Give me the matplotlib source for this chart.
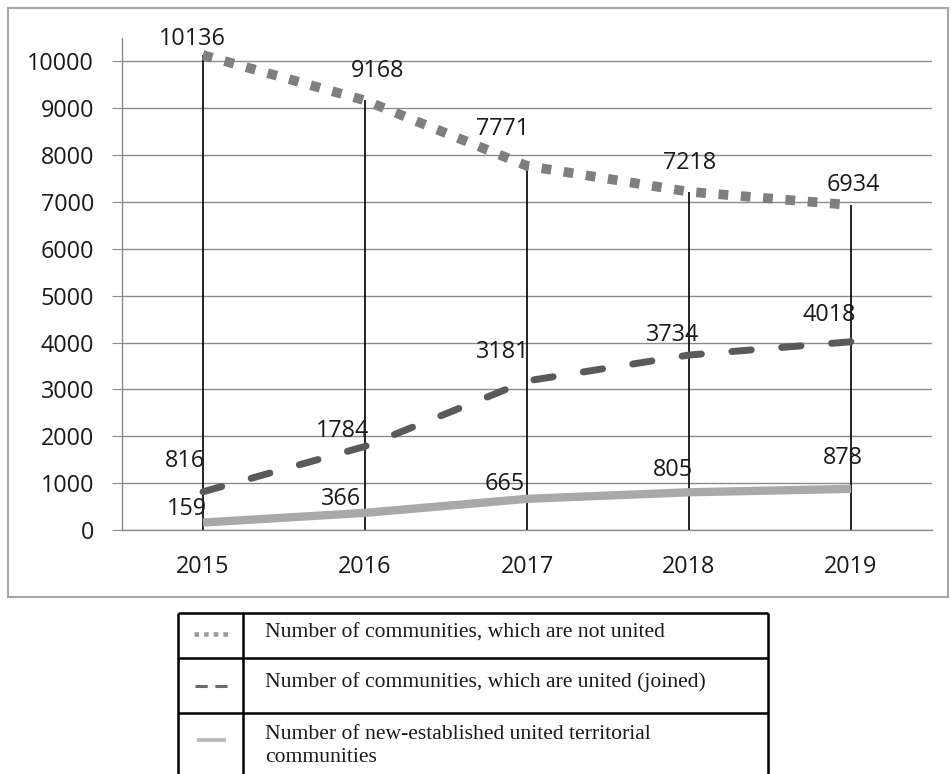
import numpy as np
import matplotlib.pyplot as plt
from matplotlib.patches import Rectangle
from matplotlib.lines import Line2D

# ---------- Data ----------
years = ['2015', '2016', '2017', '2018', '2019']
not_united = [10136, 9168, 7771, 7218, 6934]
united = [816, 1784, 3181, 3734, 4018]
new_utc = [159, 366, 665, 805, 878]

legend_labels = [
    'Number of communities, which are not united',
    'Number of communities, which are united (joined)',
    'Number of new-established united territorial\ncommunities',
]

# label offsets in pixels (dx, dy) from each point, as placed in the original
off_not_united = [(-11, 16), (13, 29), (-24, 37), (1, 29), (2, 20)]
off_united = [(-18, 31), (-22, 15), (-24, 29), (-16, 20), (-22, 27)]
off_new = [(-16, 14), (-24, 14), (-22, 15), (-16, 22), (-8, 31)]

W, H = 951, 774
fig = plt.figure(figsize=(W / 100, H / 100), dpi=100)

# ---------- Background layer (outer frame + legend table) in pixel coords ----------
bg = fig.add_axes([0, 0, 1, 1], zorder=0)
bg.set_xlim(0, W)
bg.set_ylim(H, 0)
bg.axis('off')
bg.add_patch(Rectangle((8, 8), 940, 589, fill=False, edgecolor='#a6a6a6', lw=1.5))

# table
tx0, tx1, tcol = 178, 768, 243
rows = [613, 658, 713, 790]
for y in rows[:-1]:
    bg.plot([tx0, tx1], [y, y], color='black', lw=1.8, solid_capstyle='butt')
for x in (tx0, tcol, tx1):
    bg.plot([x, x], [rows[0], H], color='black', lw=1.8, solid_capstyle='butt')

serif = ['Liberation Serif', 'DejaVu Serif']
text_y = [633, 682, 746]
for lbl, y in zip(legend_labels, text_y):
    bg.text(265, y, lbl, family=serif, fontsize=15.6, va='center', ha='left',
            color='#1a1a1a', linespacing=1.3)

# legend samples
bg.add_line(Line2D([194, 229], [634, 634], color='#9a9a9a', lw=3.3, dashes=(1, 1.1),
                   dash_capstyle='butt'))
bg.add_line(Line2D([195, 228], [686, 686], color='#6a6a6a', lw=2.2, dashes=(4, 2.5),
                   dash_capstyle='butt'))
bg.add_line(Line2D([197, 226], [740, 740], color='#b8b8b8', lw=2.6, solid_capstyle='butt'))

# ---------- Main chart ----------
ax = fig.add_axes([122 / W, 1 - 530 / H, (932 - 122) / W, (530 - 38) / H], zorder=1)
ax.patch.set_alpha(0)
x = np.arange(len(years))

ax.set_xlim(-0.5, len(years) - 0.5)
ax.set_ylim(0, 10500)
ax.set_yticks(np.arange(0, 10001, 1000))
ax.set_xticks(x)
ax.set_xticklabels(years)

for s in ('top', 'right'):
    ax.spines[s].set_visible(False)
for s in ('left', 'bottom'):
    ax.spines[s].set_color('#8c8c8c')
    ax.spines[s].set_linewidth(1.0)

ax.grid(axis='y', color='#8c8c8c', lw=1.0)
ax.set_axisbelow(True)

sans = ['Open Sans', 'DejaVu Sans']
ax.tick_params(axis='y', length=7, color='#8c8c8c', pad=13, labelsize=16.8, labelcolor='#1a1a1a')
ax.tick_params(axis='x', length=0, pad=18, labelsize=16.8, labelcolor='#1a1a1a')
for t in ax.get_xticklabels() + ax.get_yticklabels():
    t.set_family(sans)

# drop lines from the top series down to zero
ax.vlines(x, 0, not_united, color='black', lw=1.2, zorder=2)

# series
ax.plot(x, not_united, color='#7f7f7f', lw=7, dashes=(1, 1.3),
        dash_capstyle='butt', zorder=3)
ax.plot(x, united, color='#5a5a5a', lw=5, dashes=(2.8, 4.4),
        dash_capstyle='round', zorder=3)
ax.plot(x, new_utc, color='#a9a9a9', lw=6, solid_capstyle='butt', zorder=3)

# value labels
for vals, offs in ((not_united, off_not_united), (united, off_united), (new_utc, off_new)):
    for xi, v, (dx, dy) in zip(x, vals, offs):
        ax.annotate(str(v), (xi, v), xytext=(dx, dy), textcoords='offset pixels',
                    ha='center', va='center', fontsize=16.8, family=sans,
                    color='#1a1a1a', zorder=4)

fig.savefig('out.png', dpi=100)
